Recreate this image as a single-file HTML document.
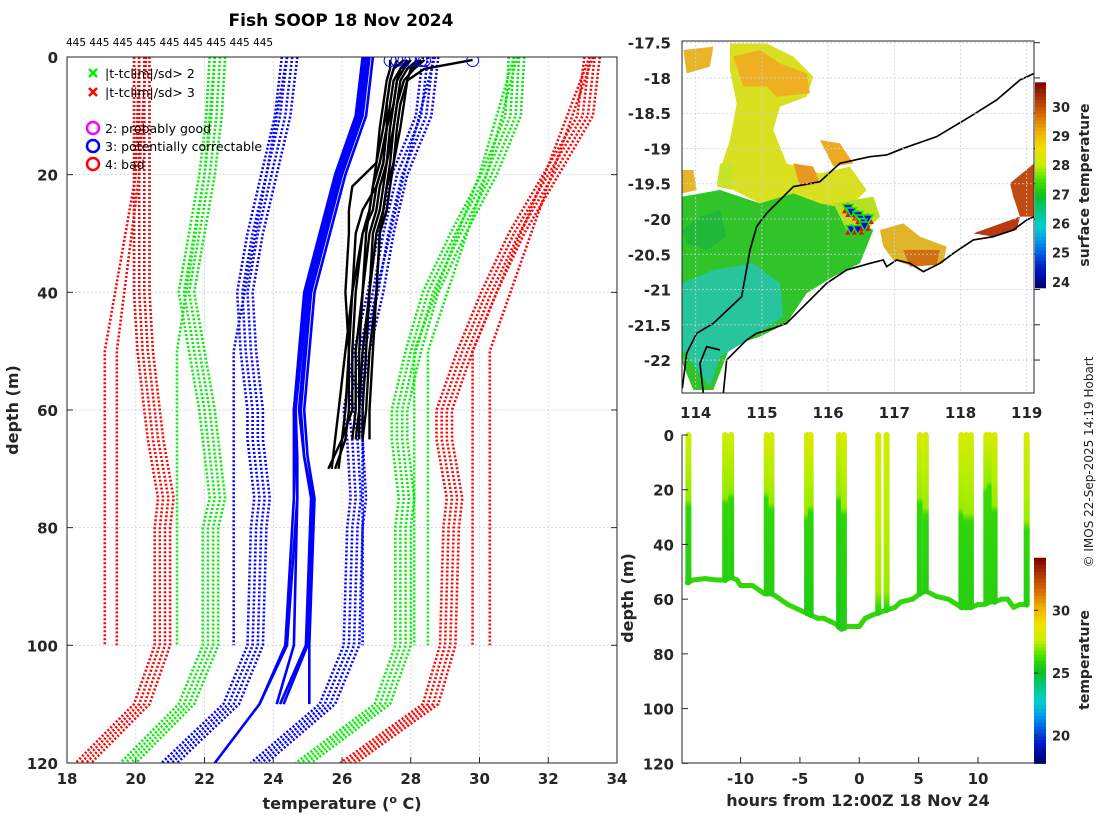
<!DOCTYPE html>
<html><head><meta charset="utf-8">
<style>
html,body{margin:0;padding:0;background:#fff;}
body{width:1100px;height:820px;overflow:hidden;font-family:"Liberation Sans","DejaVu Sans",sans-serif;}
svg text{font-family:"DejaVu Sans","Liberation Sans",sans-serif;}
.tk{font-size:15px;font-weight:bold;fill:#262626;}
.lab{font-size:16px;font-weight:bold;fill:#262626;}
</style></head>
<body>
<svg id="fig" width="1100" height="820" viewBox="0 0 1100 820" xmlns="http://www.w3.org/2000/svg">
<defs>
<clipPath id="clipL"><rect x="67" y="57" width="550" height="706"/></clipPath>
<clipPath id="clipM"><rect x="682" y="41" width="352" height="352"/></clipPath>
<clipPath id="clipB"><rect x="682" y="430" width="352" height="334"/></clipPath>
</defs>
<text x="341" y="26" text-anchor="middle" style="font-size:17px;font-weight:bold;fill:#000">Fish SOOP 18 Nov 2024</text>
<text x="66" y="46" style="font-size:10.5px;fill:#000">445 445 445 445 445 445 445 445 445</text>
<g id="left"></g>
<g id="map"></g>
<g id="bot"></g>
<text x="342" y="809" text-anchor="middle" class="lab">temperature (<tspan baseline-shift="super" font-size="11">o</tspan> C)</text>
<text transform="translate(18,410) rotate(-90)" text-anchor="middle" class="lab">depth (m)</text>
<text transform="translate(1089,185) rotate(-90)" text-anchor="middle" class="lab" style="font-size:14px">surface temperature</text>
<text transform="translate(1089,660) rotate(-90)" text-anchor="middle" class="lab" style="font-size:14px">temperature</text>
<text transform="translate(1093,462) rotate(-90)" text-anchor="middle" style="font-size:12px;fill:#222">© IMOS 22-Sep-2025 14:19 Hobart</text>
<text x="858" y="806" text-anchor="middle" class="lab">hours from 12:00Z 18 Nov 24</text>
<text transform="translate(633,598) rotate(-90)" text-anchor="middle" class="lab">depth (m)</text>
</svg>
<script>
// ---------- LEFT PROFILE DATA ----------
const climDepth=[0,10,20,30,40,50,60,65,75,80,100,110,120];
const redLeft=[20.2,20.2,20.2,20.2,20.2,20.3,20.5,20.6,20.9,20.8,20.8,20.2,18.5];
const greenLeft=[22.4,22.3,22.1,21.8,21.5,21.8,22.1,22.2,22.4,22.2,22.2,21.5,19.8];
const blueLeft=[24.5,24.3,23.9,23.5,23.2,23.3,23.5,23.5,23.7,23.6,23.5,22.8,21.0];
const blueRight=[28.6,28.4,27.7,27.3,27.0,26.6,26.3,26.4,26.5,26.4,26.3,25.6,23.6];
const greenRight=[31.1,31.0,30.3,29.4,28.6,28.1,27.7,27.7,27.9,27.8,27.8,27.2,24.9];
const redRight=[33.3,33.1,32.1,31.1,30.3,29.6,29.0,29.0,29.3,29.2,29.1,28.6,26.2];
const shortDepth=[0,20,50,100];
const redL2a=[20.1,20.0,19.1,19.1];
const redL2b=[20.3,20.1,19.45,19.45];
const greenL2=[22.3,22.0,21.2,21.2];
const blueL2=[24.4,23.8,22.85,22.85];
const blueR2=[28.7,27.8,26.6,26.6];
const greenR2a=[31.0,30.0,28.1,28.1];
const greenR2b=[31.1,30.2,28.5,28.5];
const redR2a=[33.2,31.9,29.8,29.8];
const redR2b=[33.3,32.1,30.3,30.3];
const solidDepth=[0,10,20,40,60,68,75,100,110];
const solid1=[26.6,26.4,25.8,24.9,24.6,24.6,24.6,24.35,23.6];
const solid2=[26.7,26.5,25.9,25.0,24.65,24.7,24.7,24.6,24.1];
const solid3=[26.8,26.6,26.0,25.1,24.8,24.9,25.1,24.95,24.2];
const solid4=[26.9,26.7,26.1,25.2,24.9,25.0,25.2,25.05,25.05];
const solid5=[26.75,26.55,25.95,25.05,24.75,24.9,25.15,25.0,24.3];
const solidLongDepth=[0,10,20,40,60,68,75,100,110,120];
const solidLong=[26.65,26.45,25.85,24.95,24.6,24.65,24.7,24.4,23.6,22.3];
const castDepth=[0.5,2,4,8,12,18,22,26,30,40,50,60,65,70];
const cast1=[27.6,27.5,27.4,27.3,27.3,27.1,26.9,26.8,26.7,26.6,26.5,26.5,26.5];
const cast2=[28.0,27.8,27.6,27.5,27.4,27.3,27.2,27.1,26.9,26.8,26.6,26.5,26.4];
const cast3=[28.3,28.0,27.9,27.7,27.6,27.5,27.3,27.2,27.0,26.8,26.7,26.6,26.6];
const cast4=[27.8,27.5,27.4,27.3,27.2,27.0,26.3,26.2,26.2,26.1,26.2,26.2,26.1,25.8];
const cast5=[29.8,28.4,27.9,27.8,27.7,27.5,27.4,27.3,27.1,27.0,26.8,26.7,26.6];
const cast6=[28.0,27.7,27.6,27.5,27.3,27.2,27.0,26.9,26.6,26.4,26.3,26.3,26.0,25.6];
const cast7=[27.4,27.4,27.3,27.2,27.1,27.0,26.9,26.8,26.6,26.3,26.1,25.9,25.8,25.7];
const cast8=[28.4,28.1,27.8,27.6,27.5,27.4,27.3,27.2,27.1,27.0,26.9,26.8,26.8];
const cast9=[27.9,27.7,27.5,27.4,27.3,27.2,27.0,26.6,26.4,26.3,26.2,26.1,26.0,25.9];
const cast10=[28.2,27.9,27.7,27.6,27.5,27.3,27.1,27.0,26.8,26.6,26.4,26.4,26.3];
const surfaceFlagTemps=[27.4,27.6,27.8,28.0,28.3,28.4,29.8];
const xTicksL=[18,20,22,24,26,28,30,32,34];
const yTicksL=[0,20,40,60,80,100,120];

// ---------- SECTION DATA ----------
const bottomHours=[-14.5,-14,-13,-12,-11.3,-10.8,-10.3,-10,-9.5,-9,-8,-7.4,-7,-6,-5,-4.5,-4,-3.5,-3,-2.5,-2,-1.5,-1,-0.5,0,0.5,1,1.6,2.3,3,3.5,4.5,5.1,5.6,6.5,7.5,8.6,9.4,10,10.5,11,11.4,12,12.5,13,13.5,14.1];
const bottomDepths=[54,53,52.5,53,53,52,53,55,55,55,58,58,59,62,64,65,66,67,67,68,69,71,70,70,70,67,66,65,64,63,61,60,58,57,59,60,63,63,62,62,61,61,60,60,63,62,62];
const castHours=[-14.4,-11.3,-10.8,-7.8,-7.4,-4.4,-4.1,-1.7,-1.3,1.6,2.3,5.1,5.6,8.6,9.0,9.4,10.7,11.0,11.4,14.1];
const castMixedDepth=[25,24,22,22,26,30,27,23,28,60,60,24,28,28,30,30,20,18,27,33];
const castTopTemp=[27.9,27.8,27.9,28.3,28.0,27.9,28.6,28.1,28.0,28.0,27.9,28.1,28.0,28.1,28.1,28.0,27.9,28.0,28.1,28.1];
const castMidTemp=[27.4,27.4,27.4,27.5,27.5,27.5,27.5,27.4,27.5,27.6,27.5,27.5,27.5,27.5,27.5,27.5,27.4,27.4,27.5,27.5];
const castDeepTemp=[25.7,25.7,25.7,25.7,25.7,25.6,25.6,25.5,25.6,25.7,25.7,25.7,25.7,25.7,25.7,25.7,25.8,25.8,25.7,25.7];
const xTicksB=[-10,-5,0,5,10];
const yTicksB=[0,20,40,60,80,100,120];
const cbarTicksMap=[24,25,26,27,28,29,30];
const cbarTicksB=[20,25,30];
// ---------- MAP DATA ----------
const trackLon=[116.3,116.35,116.45,116.5,116.55,116.6,116.35,116.45,116.55];
const trackLat=[-19.85,-19.9,-19.95,-20.0,-20.05,-20.0,-20.15,-20.15,-20.1];

const NS="http://www.w3.org/2000/svg";
function mk(parent,tag,attrs,name){const e=document.createElementNS(NS,tag);for(const k in attrs)e.setAttribute(k,attrs[k]);


parent.appendChild(e);return e;}
function txt(parent,x,y,s,cls,anchor,name){const t=mk(parent,'text',{x:x,y:y,'class':cls,'text-anchor':anchor},name);t.textContent=s;return t;}

const stops=[[0,'#00006e'],[0.1,'#0018c8'],[0.22,'#0090f0'],[0.3,'#00d0d0'],[0.38,'#00c880'],[0.45,'#10c020'],[0.52,'#40e000'],[0.6,'#c8f000'],[0.68,'#f0e000'],[0.76,'#f0b000'],[0.86,'#d06000'],[1,'#800000']];
function hx(c){return [parseInt(c.substr(1,2),16),parseInt(c.substr(3,2),16),parseInt(c.substr(5,2),16)];}
function cmap(f){f=Math.max(0,Math.min(1,f));for(let i=1;i<stops.length;i++){if(f<=stops[i][0]){const a=stops[i-1],b=stops[i];const u=(f-a[0])/(b[0]-a[0]);const A=hx(a[1]),B=hx(b[1]);return 'rgb('+A.map((v,k)=>Math.round(v+(B[k]-v)*u)).join(',')+')';}}return stops[stops.length-1][1];}

// ---------- LEFT PANEL ----------
const L=document.getElementById('left');
const xL=t=>67+(t-18)*34.375, yL=d=>57+d*5.883;
xTicksL.forEach(t=>{mk(L,'line',{x1:xL(t),x2:xL(t),y1:57,y2:763,stroke:'#c9d0e6','stroke-width':0.8,'stroke-dasharray':'2,2'},'x-gridline');
 mk(L,'line',{x1:xL(t),x2:xL(t),y1:763,y2:757,stroke:'#262626'},'x-tick');
 txt(L,xL(t),784,t,'tk','middle','x-tick-label');});
yTicksL.forEach(d=>{mk(L,'line',{x1:67,x2:617,y1:yL(d),y2:yL(d),stroke:'#c9d0e6','stroke-width':0.8,'stroke-dasharray':'2,2'},'y-gridline');
 mk(L,'line',{x1:67,x2:73,y1:yL(d),y2:yL(d),stroke:'#262626'},'y-tick');
 mk(L,'line',{x1:611,x2:617,y1:yL(d),y2:yL(d),stroke:'#262626'},'y-tick');
 txt(L,58,yL(d)+6,d,'tk','end','y-tick-label');});
const Lc=mk(L,'g',{'clip-path':'url(#clipL)'},'plot-area');
function line(par,depths,temps,color,w,dash,name,off){const pts=temps.map((t,i)=>xL(t+(off||0)).toFixed(1)+','+yL(depths[i]).toFixed(1)).join(' ');
 const a={points:pts,fill:'none',stroke:color,'stroke-width':w,'stroke-linejoin':'round'};if(dash)a['stroke-dasharray']=dash;return mk(par,'polyline',a,name);}
const jit=[-0.25,-0.1,0.05,0.2];
[[redLeft,'#ff0000','clim-minus-3sd'],[greenLeft,'#00ee00','clim-minus-2sd'],[blueLeft,'#0000ff','clim-minus-1sd'],[blueRight,'#0000ff','clim-plus-1sd'],[greenRight,'#00ee00','clim-plus-2sd'],[redRight,'#ff0000','clim-plus-3sd']].forEach(s=>{
 jit.forEach(o=>line(Lc,climDepth,s[0],s[1],2.6,'2,2',s[2],o));});
[[redL2a,'#ff0000'],[redL2b,'#ff0000'],[greenL2,'#00ee00'],[blueL2,'#0000ff'],[blueR2,'#0000ff'],[greenR2a,'#00ee00'],[greenR2b,'#00ee00'],[redR2a,'#ff0000'],[redR2b,'#ff0000']].forEach(s=>{
 line(Lc,shortDepth,s[0],s[1],2.6,'2,2','clim-short-profile',0);});
[solid1,solid2,solid3,solid4,solid5].forEach(s=>line(Lc,solidDepth,s,'#0000ff',2.6,null,'previous-profile',0));
line(Lc,solidLongDepth,solidLong,'#0000ff',2.6,null,'previous-profile',0);
[cast1,cast2,cast3,cast4,cast5,cast6,cast7,cast8,cast9,cast10].forEach(c=>line(Lc,castDepth.slice(0,c.length),c,'#000',2.4,null,'temperature-cast',0));
surfaceFlagTemps.forEach(t=>mk(Lc,'circle',{cx:xL(t),cy:yL(0.6),r:6,fill:'none',stroke:'#0000ff','stroke-width':1},'flag-circle'));
mk(L,'rect',{x:67,y:57,width:550,height:706,fill:'none',stroke:'#262626','stroke-width':1},'plot-frame');
// legend
const lg=mk(L,'g',{},'legend');
function cross(x,y,c){mk(lg,'path',{d:`M${x-4},${y-4}L${x+4},${y+4}M${x+4},${y-4}L${x-4},${y+4}`,stroke:c,'stroke-width':2.5},'legend-marker');}
cross(93,73,'#00ee00');cross(93,92,'#ff0000');
txt(lg,105,78,'|t-tclim|/sd> 2','', 'start','legend-entry').setAttribute('style','font-size:12.5px');
txt(lg,105,97,'|t-tclim|/sd> 3','', 'start','legend-entry').setAttribute('style','font-size:12.5px');
[['#ff00ff','2: probably good',128],['#0000ff','3: potentially correctable',146],['#ff0000','4: bad',164]].forEach(e=>{
 mk(lg,'circle',{cx:93,cy:e[2],r:6,fill:'none',stroke:e[0],'stroke-width':2.5},'legend-marker');
 txt(lg,105,e[2]+5,e[1],'','start','legend-entry').setAttribute('style','font-size:12.5px');});

// ---------- MAP ----------
const M=document.getElementById('map');
const xM=lon=>695.7+(lon-114)*66.2, yM=lat=>42.7+(-17.5-lat)*70.52;
const Mc=mk(M,'g',{'clip-path':'url(#clipM)'},'map-area');
const Z=mk(Mc,'g',{transform:'translate(620,30) scale(0.3333)'},'map-shapes');
function poly(pts,fill,name){mk(Z,'polygon',{points:pts,fill:fill},name);}
poly('187,500 300,480 420,520 520,470 640,520 690,560 760,600 720,700 640,740 560,790 500,880 420,920 330,950 280,1080 220,1080 187,1000','#30c428','sst-patch');
poly('187,760 280,720 400,700 480,760 490,860 400,920 300,980 270,1070 187,960','#28c49c','sst-patch');
poly('187,600 240,560 300,540 320,620 260,660 200,640','#20b838','sst-patch');
poly('330,40 440,40 520,80 580,140 560,200 480,230 460,300 500,400 600,430 690,410 740,480 700,520 650,530 600,520 520,490 420,520 340,480 300,420 330,330 350,220 330,120','#d8e020','sst-patch');
poly('340,80 420,60 480,100 560,130 570,190 470,200 440,170 370,170','#eeb020','sst-patch');
poly('190,60 280,50 270,110 200,130','#e8b428','sst-patch');
poly('520,400 580,410 600,460 540,470','#e89a20','sst-patch');
poly('600,330 660,340 700,400 640,410','#eeaa20','sst-patch');
poly('300,400 340,400 340,480 290,470','#c8e428','sst-patch');
poly('187,420 220,420 230,480 187,490','#e8b428','sst-patch');
poly('640,520 760,500 780,560 740,600 680,600','#b8e020','sst-patch');
poly('780,600 850,580 900,620 980,650 970,700 880,710 820,690 790,650','#e0b428','sst-patch');
poly('850,660 960,660 950,705 870,710','#d07010','sst-patch');
poly('1170,460 1243,400 1243,560 1200,560 1180,500','#c04a10','sst-patch');
poly('1060,610 1200,560 1190,600 1120,620','#b83a10','sst-patch');
mk(Z,'path',{d:'M187,1075 L200,970 230,910 280,880 365,800 390,660 410,590 440,550 520,470 600,455 660,400 750,380 800,375 850,355 950,320 1050,260 1130,210 1200,150 1243,130',fill:'none',stroke:'#000','stroke-width':5},'shelf-contour');
mk(Z,'path',{d:'M310,1090 L320,990 350,960 380,930 410,910 460,895 500,880 540,840 580,800 620,760 680,720 750,700 790,690 800,710 830,690 870,700 910,725 960,700 1000,670 1060,630 1120,620 1180,600 1220,570 1243,560 M250,1090 L240,1000 260,950 300,960',fill:'none',stroke:'#000','stroke-width':5},'coastline');
trackLon.forEach((lo,i)=>{const x=xM(lo),y=yM(trackLat[i]);
 mk(Mc,'path',{d:`M${x-6},${y+5}L${x+6},${y+5}L${x},${y-6}Z`,fill:'#ff0000'},'track-marker');
 mk(Mc,'path',{d:`M${x-5},${y-4}L${x+5},${y-4}L${x},${y+5}Z`,fill:'#0000ff',stroke:'#00ee00','stroke-width':1.5},'track-marker');});
[114,115,116,117,118,119].forEach(lo=>{mk(M,'line',{x1:xM(lo),x2:xM(lo),y1:41,y2:393,stroke:'#c9d0e6','stroke-width':0.8,'stroke-dasharray':'2,2'},'lon-gridline');
 txt(M,xM(lo),418,lo,'tk','middle','lon-tick-label');});
[-17.5,-18,-18.5,-19,-19.5,-20,-20.5,-21,-21.5,-22].forEach(la=>{mk(M,'line',{x1:682,x2:1034,y1:yM(la),y2:yM(la),stroke:'#c9d0e6','stroke-width':0.8,'stroke-dasharray':'2,2'},'lat-gridline');
 mk(M,'line',{x1:1034,x2:1040,y1:yM(la),y2:yM(la),stroke:'#262626'},'lat-tick');
 txt(M,671,yM(la)+6,la,'tk','end','lat-tick-label');});
mk(M,'rect',{x:682,y:41,width:352,height:352,fill:'none',stroke:'#262626'},'map-frame');
// map colorbar
const cbMin=23.8,cbMax=30.84,cbTop=82.3,cbBot=287.7;
for(let i=0;i<60;i++){const f=i/60;mk(M,'rect',{x:1035,y:cbBot-(i+1)*(cbBot-cbTop)/60,width:11,height:(cbBot-cbTop)/60+0.6,fill:cmap(f+0.5/60)},'map-colorbar-cell');}
cbarTicksMap.forEach(v=>{const y=cbBot-(v-cbMin)/(cbMax-cbMin)*(cbBot-cbTop);txt(M,1052,y+5,v,'tk','start','map-colorbar-label').setAttribute('style','font-size:13px');});

// ---------- SECTION ----------
const B=document.getElementById('bot');
const xB=h=>859.3+h*11.87, yB=d=>435+d*2.736;
const bMin=17.8,bMax=34.2;
const colT=t=>cmap((t-bMin)/(bMax-bMin));
const Bc=mk(B,'g',{'clip-path':'url(#clipB)'},'section-area');
function bottomAt(h){for(let i=1;i<bottomHours.length;i++){if(h<=bottomHours[i]){const u=(h-bottomHours[i-1])/(bottomHours[i]-bottomHours[i-1]);return bottomDepths[i-1]+u*(bottomDepths[i]-bottomDepths[i-1]);}}return bottomDepths[bottomDepths.length-1];}
for(let i=1;i<bottomHours.length;i++){mk(Bc,'line',{x1:xB(bottomHours[i-1]),y1:yB(bottomDepths[i-1]),x2:xB(bottomHours[i]),y2:yB(bottomDepths[i]),stroke:colT(26.0),'stroke-width':5,'stroke-linecap':'round'},'bottom-track-segment');}
const defs=document.querySelector('defs');
castHours.forEach((h,i)=>{const bd=bottomAt(h),md=Math.min(castMixedDepth[i],bd);const x=xB(h);
 const gid='cg'+i;
 const g=mk(defs,'linearGradient',{id:gid,x1:0,y1:0,x2:0,y2:1,gradientUnits:'userSpaceOnUse'},'cast-gradient');
 g.setAttribute('y1',yB(0));g.setAttribute('y2',yB(bd));
 const fr=md/bd;
 [[0,castTopTemp[i]],[fr*0.5,castMidTemp[i]],[fr*0.95,castMidTemp[i]-0.3],[Math.min(1,fr*1.05),castDeepTemp[i]+0.3],[1,castDeepTemp[i]]].forEach(s=>{
   mk(g,'stop',{offset:s[0],'stop-color':colT(s[1])},'gradient-stop');});
 mk(Bc,'line',{x1:x,x2:x+0.01,y1:yB(0),y2:yB(bd),stroke:'url(#'+gid+')','stroke-width':6,'stroke-linecap':'round'},'cast-profile');});
xTicksB.forEach(h=>{mk(B,'line',{x1:xB(h),x2:xB(h),y1:763,y2:757,stroke:'#262626'},'x-tick');txt(B,xB(h),784,h,'tk','middle','section-x-tick-label');});
yTicksB.forEach(d=>{mk(B,'line',{x1:682,x2:688,y1:yB(d),y2:yB(d),stroke:'#262626'},'y-tick');txt(B,674,yB(d)+6,d,'tk','end','section-y-tick-label');});
mk(B,'path',{d:'M682,435 L682,763 L1034,763',fill:'none',stroke:'#262626'},'section-axes');
const cb2Top=557.7,cb2Bot=763.3;
for(let i=0;i<60;i++){mk(B,'rect',{x:1034,y:cb2Bot-(i+1)*(cb2Bot-cb2Top)/60,width:12,height:(cb2Bot-cb2Top)/60+0.6,fill:cmap((i+0.5)/60)},'section-colorbar-cell');}
cbarTicksB.forEach(v=>{const y=cb2Bot-(v-bMin)/(bMax-bMin)*(cb2Bot-cb2Top);mk(B,'line',{x1:1034,x2:1038,y1:y,y2:y,stroke:'#262626'},'colorbar-tick');txt(B,1052,y+5,v,'tk','start','section-colorbar-label').setAttribute('style','font-size:13px');});
</script>
</body></html>
